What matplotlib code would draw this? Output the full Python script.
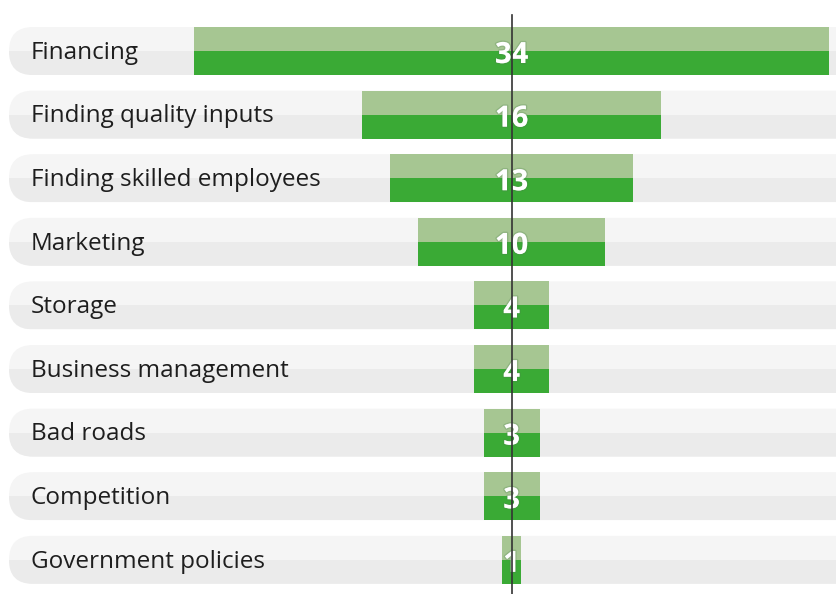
import matplotlib
matplotlib.use("Agg")
import matplotlib.pyplot as plt
from matplotlib.patches import FancyBboxPatch, Rectangle
import matplotlib.patheffects as pe

categories = ["Financing", "Finding quality inputs", "Finding skilled employees",
              "Marketing", "Storage", "Business management", "Bad roads",
              "Competition", "Government policies"]
values = [34, 16, 13, 10, 4, 4, 3, 3, 1]

W, H = 837, 594
fig = plt.figure(figsize=(W / 100, H / 100), dpi=100)
ax = fig.add_axes([0, 0, 1, 1])

px_per_unit = 18.7
row_px = 63.6
center_px = 511.6
first_row_px = 51
bar_px = 48

xmin = -center_px / px_per_unit
xmax = (W - center_px) / px_per_unit
ymin = -first_row_px / row_px
ymax = (H - first_row_px) / row_px
ax.set_xlim(xmin, xmax)
ax.set_ylim(ymax, ymin)
ax.axis("off")

bh = bar_px / row_px
pill_left = xmin + 9 / px_per_unit
radius = 24 / px_per_unit
aspect = (1 / row_px) / (1 / px_per_unit)

light_bg = "#f5f5f5"
dark_bg = "#ebebeb"
light_g = "#a6c692"
dark_g = "#3aaa35"
fam = ["Open Sans", "DejaVu Sans"]

for i, (cat, v) in enumerate(zip(categories, values)):
    # background pill
    for col, clip_top in ((light_bg, True), (dark_bg, False)):
        p = FancyBboxPatch((pill_left, i - bh / 2), xmax - pill_left + 5, bh,
                           boxstyle=f"round,pad=0,rounding_size={radius}",
                           mutation_aspect=aspect, fc=col, ec="none", zorder=1)
        ax.add_patch(p)
        if not clip_top:
            clip = Rectangle((xmin, i), xmax - xmin, bh / 2, transform=ax.transData)
            p.set_clip_path(clip)
    # bars
    ax.barh(i - bh / 4, v, left=-v / 2, height=bh / 2, color=light_g, zorder=2)
    ax.barh(i + bh / 4, v, left=-v / 2, height=bh / 2, color=dark_g, zorder=2)
    ax.text(pill_left + 22 / px_per_unit, i + 7.8 / row_px, cat, ha="left", va="baseline",
            fontsize=17.5, color="#1e1e1e", family=fam, zorder=4)
    ax.text(0, i + 12 / row_px, str(v), ha="center", va="baseline", fontsize=21,
            fontweight="bold", color="white", family=fam, zorder=5,
            path_effects=[pe.withStroke(linewidth=2, foreground=(0.3, 0.5, 0.3, 0.25))])

ax.plot([0, 0], [ymin + 15 / row_px, ymax], color="#333333", lw=1.2, zorder=6)

fig.savefig("out.png", dpi=100)
